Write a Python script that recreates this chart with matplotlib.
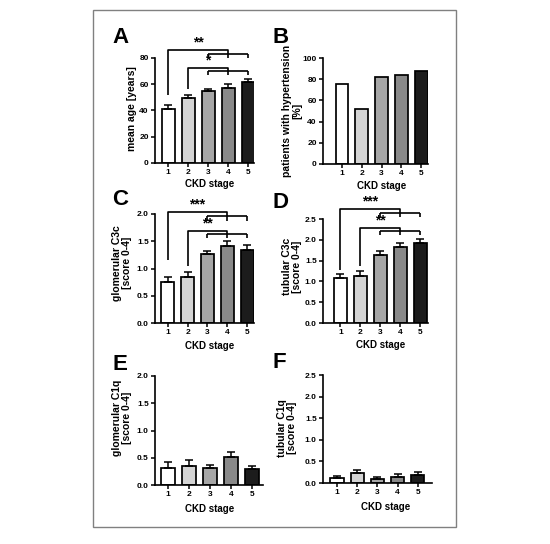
import matplotlib
matplotlib.use("Agg")
import matplotlib.pyplot as plt
from matplotlib.patches import Rectangle

plt.rcParams['font.family'] = ['Liberation Sans', 'DejaVu Sans']
plt.rcParams['font.weight'] = 'bold'

stages = [1, 2, 3, 4, 5]
stage_labels = ['1', '2', '3', '4', '5']
bar_colors = ['#ffffff', '#d4d4d4', '#a6a6a6', '#898989', '#1c1c1c']

age_mean = [41, 49.5, 54.5, 57.5, 62]
age_err = [3, 2.5, 2, 2.5, 2]
hyper_pct = [75.5, 51.5, 82.5, 83.5, 87.5]
glom_c3c = [0.76, 0.85, 1.26, 1.42, 1.34]
glom_c3c_err = [0.09, 0.09, 0.06, 0.09, 0.09]
tub_c3c = [1.07, 1.14, 1.64, 1.82, 1.92]
tub_c3c_err = [0.11, 0.11, 0.09, 0.10, 0.11]
glom_c1q = [0.32, 0.34, 0.31, 0.51, 0.29]
glom_c1q_err = [0.10, 0.11, 0.05, 0.09, 0.06]
tub_c1q = [0.115, 0.23, 0.09, 0.15, 0.18]
tub_c1q_err = [0.055, 0.08, 0.05, 0.06, 0.07]

# significance annotations: (from stage, label, start y, top y, sub y, leg y)
sig_A = [(1, '**', 51.6, 86.3, 83.3, 80.3), (2, '*', 56.6, 72.4, 70.1, 67.3)]
sig_C = [(1, '***', 1.16, 2.04, 1.96, 1.88), (2, '**', 1.05, 1.69, 1.63, 1.56)]
sig_D = [(1, '***', 1.28, 2.74, 2.64, 2.55), (2, '**', 1.36, 2.28, 2.20, 2.11)]
group = [3, 4, 5]

W, H = 550, 544
fig = plt.figure(figsize=(W / 100, H / 100), dpi=100)
fig.patches.append(Rectangle((93 / W, 1 - 527 / H), (456 - 93) / W, (527 - 10) / H,
                             transform=fig.transFigure, fill=False,
                             edgecolor='#808080', lw=1.0))


def add_ax(l, r, t, b):
    return fig.add_axes([l / W, 1 - b / H, (r - l) / W, (b - t) / H])


def style(ax, ylim, yticks, yfmt, xlim, ylabel, ylc, xlc, letter, lpos):
    ax.set_xlim(*xlim)
    ax.set_ylim(*ylim)
    ax.set_yticks(yticks)
    ax.set_yticklabels([yfmt.format(v) for v in yticks])
    ax.set_xticks(stages)
    ax.set_xticklabels(stage_labels)
    for s in ['top', 'right']:
        ax.spines[s].set_visible(False)
    for s in ['left', 'bottom']:
        ax.spines[s].set_linewidth(1.2)
    ax.tick_params(axis='both', labelsize=6, width=1.1, length=3, pad=1.5)
    for lab in ax.get_xticklabels() + ax.get_yticklabels():
        lab.set_fontweight('bold')
    ax.set_ylabel(ylabel, fontsize=7.5, fontweight='bold', linespacing=1.0)
    ax.yaxis.set_label_coords(*ylc)
    ax.set_xlabel('CKD stage', fontsize=7, fontweight='bold')
    ax.xaxis.set_label_coords(*xlc)
    fig.text(lpos[0] / W, 1 - lpos[1] / H, letter, fontsize=16, fontweight='bold',
             ha='left', va='top')


def bars(ax, vals, errs=None):
    ax.bar(stages, vals, width=0.65, color=bar_colors, edgecolor='black',
           linewidth=1.25, zorder=2)
    if errs is not None:
        ax.errorbar(stages, vals, yerr=[[0] * len(vals), errs], fmt='none',
                    ecolor='black', elinewidth=1.1, capsize=2.8, capthick=1.1,
                    zorder=3)


def brackets(ax, sigs):
    for (x0, lab, ys, yt, ysub, yleg) in sigs:
        kw = dict(color='black', lw=1.2, clip_on=False, solid_capstyle='butt')
        ax.plot([x0, x0, 4, 4], [ys, yt, yt, ysub], **kw)
        ax.plot([group[0], group[-1]], [ysub, ysub], **kw)
        for g in group:
            ax.plot([g, g], [ysub, yleg], **kw)
        ax.annotate(lab, xy=((x0 + 4) / 2, yt), xytext=(0, 2.6),
                    textcoords='offset points', ha='center', va='baseline',
                    fontsize=10, fontweight='bold', annotation_clip=False)


# A
axA = add_ax(155, 254, 58, 163)
bars(axA, age_mean, age_err)
brackets(axA, sig_A)
style(axA, (0, 80), [0, 20, 40, 60, 80], '{:.0f}', (0.35, 5.3),
      'mean age [years]', (-0.18, 0.52), (0.555, -0.15), 'A', (112, 27))

# B
axB = add_ax(323, 428, 58, 164)
bars(axB, hyper_pct)
style(axB, (0, 100), [0, 20, 40, 60, 80, 100], '{:.0f}', (0.04, 5.35),
      'patients with hypertension\n[%]', (-0.2, 0.5), (0.56, -0.16), 'B', (272, 27))

# C
axC = add_ax(155, 254, 214, 323)
bars(axC, glom_c3c, glom_c3c_err)
brackets(axC, sig_C)
style(axC, (0, 2.0), [0.0, 0.5, 1.0, 1.5, 2.0], '{:.1f}', (0.35, 5.35),
      'glomerular C3c\n[score 0-4]', (-0.23, 0.55), (0.555, -0.165), 'C', (112, 189))

# D
axD = add_ax(323, 428, 219, 323)
bars(axD, tub_c3c, tub_c3c_err)
brackets(axD, sig_D)
style(axD, (0, 2.5), [0.0, 0.5, 1.0, 1.5, 2.0, 2.5], '{:.1f}', (0.13, 5.4),
      'tubular C3c\n[score 0-4]', (-0.2, 0.54), (0.55, -0.163), 'D', (272, 192))

# E
axE = add_ax(155, 263, 376, 485)
bars(axE, glom_c1q, glom_c1q_err)
style(axE, (0, 2.0), [0.0, 0.5, 1.0, 1.5, 2.0], '{:.1f}', (0.38, 5.52),
      'glomerular C1q\n[score 0-4]', (-0.21, 0.62), (0.51, -0.174), 'E', (113, 354))

# F
axF = add_ax(323, 432, 375, 483)
bars(axF, tub_c1q, tub_c1q_err)
style(axF, (0, 2.5), [0.0, 0.5, 1.0, 1.5, 2.0, 2.5], '{:.1f}', (0.31, 5.7),
      'tubular C1q\n[score 0-4]', (-0.24, 0.51), (0.57, -0.176), 'F', (272, 352))

fig.savefig('out.png', dpi=100, facecolor='white')
